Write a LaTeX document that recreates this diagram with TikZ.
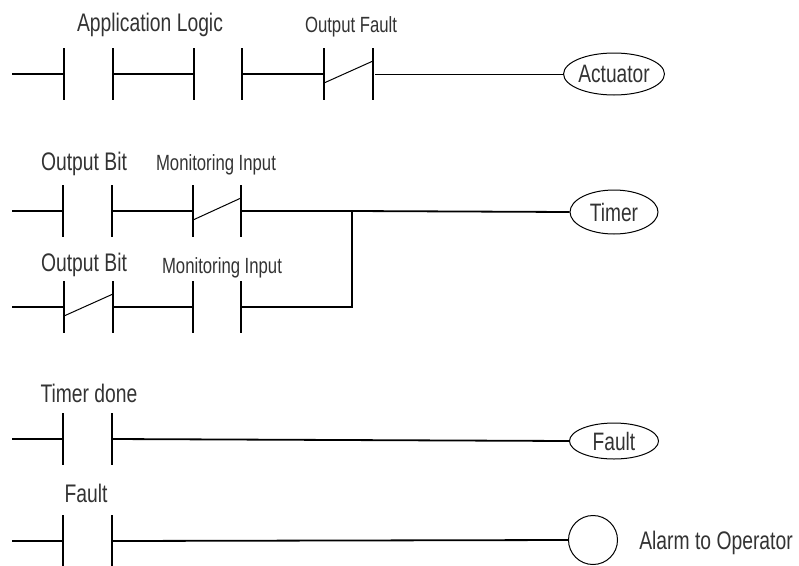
\documentclass[tikz,border=0pt]{standalone}
\usepackage{fontspec}
\setmainfont[FakeStretch=0.76]{Liberation Sans}
\usetikzlibrary{shapes.geometric}
\tikzset{
  wire/.style={line width=1.8pt},
  thinwire/.style={line width=1pt},
  bar/.style={line width=1.8pt},
  ncline/.style={line width=1pt},
  coil/.style={draw, ellipse, line width=1pt, inner sep=0pt, text=black!80, font=\fontsize{25.2}{28}\selectfont},
  bigtxt/.style={inner sep=0pt, text=black!80, font=\fontsize{25.4}{29}\selectfont},
  smalltxt/.style={inner sep=0pt, text=black!80, font=\fontsize{22}{26}\selectfont},
}
\newcommand{\ldcontact}[4]{% name, x1, x2, y
  \coordinate (#1-l) at (#2,#4);
  \coordinate (#1-r) at (#3,#4);
  \draw[bar] (#2,#4-26) -- (#2,#4+26);
  \draw[bar] (#3,#4-26) -- (#3,#4+26);
}
\newcommand{\ldnc}[1]{\draw[ncline] ([yshift=-9pt]#1-l) -- ([yshift=13pt]#1-r);}
\begin{document}
\begin{tikzpicture}[x=1pt,y=-1pt]
\useasboundingbox (0,0) rectangle (799,565);
% Row 1
\coordinate (r1s) at (12,74);
\ldcontact{aa}{64}{113}{74}
\ldcontact{ab}{194}{242}{74}
\ldcontact{of}{324}{373}{74}
\ldnc{of}
\node[coil, minimum width=87pt, minimum height=42pt] (act) at (614,74) {Actuator};
\draw[wire] (r1s) -- (aa-l);
\draw[wire] (aa-r) -- (ab-l);
\draw[wire] (ab-r) -- (of-l);
\draw[thinwire] ([xshift=2pt]of-r) -- (act.west);
\node[bigtxt] (tapp) at (150,25) {Application Logic};
\node[smalltxt] (tof) at (351,27) {Output Fault};
% Row 2
\coordinate (r2s) at (12,211);
\ldcontact{ob1}{63}{112}{211}
\ldcontact{mi1}{193}{241}{211}
\ldnc{mi1}
\node[coil, minimum width=88pt, minimum height=44pt] (tmr) at (614,212) {Timer\hspace{12pt}};
\coordinate (jn) at (352,211);
\draw[wire] (r2s) -- (ob1-l);
\draw[wire] (ob1-r) -- (mi1-l);
\draw[wire] (mi1-r) -- (jn) -- (tmr.west);
\node[bigtxt] (tob1) at (84,164) {Output Bit};
\node[smalltxt] (tmi1) at (216,165) {Monitoring Input};
% Row 3
\coordinate (r3s) at (12,307);
\ldcontact{ob2}{64}{113}{307}
\ldnc{ob2}
\ldcontact{mi2}{193}{241}{307}
\draw[wire] (r3s) -- (ob2-l);
\draw[wire] (ob2-r) -- (mi2-l);
\draw[wire] (mi2-r) -| (jn);
\node[bigtxt] (tob2) at (84,265) {Output Bit};
\node[smalltxt] (tmi2) at (222,268) {Monitoring Input};
% Row 4
\coordinate (r4s) at (12,439);
\ldcontact{td}{63}{112}{439}
\node[coil, minimum width=89pt, minimum height=36pt] (flt) at (614,441) {Fault\hspace{12pt}};
\draw[wire] (r4s) -- (td-l);
\draw[wire] (td-r) -- (flt.west);
\node[bigtxt] (ttd) at (89,393) {Timer done};
% Row 5
\coordinate (r5s) at (12,541);
\ldcontact{fc}{63}{112}{541}
\node[draw, circle, line width=1pt, minimum size=49pt, inner sep=0pt] (alm) at (593,540) {};
\draw[wire] (r5s) -- (fc-l);
\draw[wire] (fc-r) -- (alm.west);
\node[bigtxt] (tfc) at (86,493) {Fault};
\node[bigtxt] (talm) at (716,543) {Alarm to Operator};
\end{tikzpicture}
\end{document}
